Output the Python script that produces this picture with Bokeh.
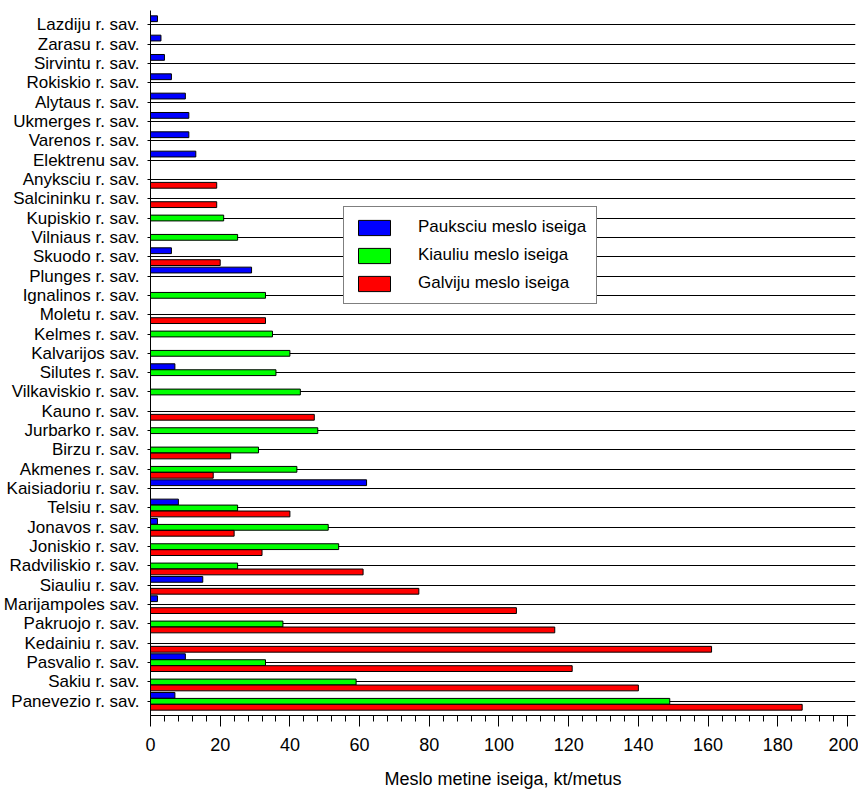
from bokeh.plotting import figure
from bokeh.models import FactorRange, Range1d, SingleIntervalTicker, Legend, LegendItem, ColumnDataSource
from bokeh.transform import dodge
from bokeh.embed import file_html
from bokeh.resources import INLINE

# categories listed top to bottom as in the chart
categories = [
    "Lazdiju r. sav.", "Zarasu r. sav.", "Sirvintu r. sav.", "Rokiskio r. sav.",
    "Alytaus r. sav.", "Ukmerges r. sav.", "Varenos r. sav.", "Elektrenu sav.",
    "Anyksciu r. sav.", "Salcininku r. sav.", "Kupiskio r. sav.", "Vilniaus r. sav.",
    "Skuodo r. sav.", "Plunges r. sav.", "Ignalinos r. sav.", "Moletu r. sav.",
    "Kelmes r. sav.", "Kalvarijos sav.", "Silutes r. sav.", "Vilkaviskio r. sav.",
    "Kauno r. sav.", "Jurbarko r. sav.", "Birzu r. sav.", "Akmenes r. sav.",
    "Kaisiadoriu r. sav.", "Telsiu r. sav.", "Jonavos r. sav.", "Joniskio r. sav.",
    "Radviliskio r. sav.", "Siauliu r. sav.", "Marijampoles sav.", "Pakruojo r. sav.",
    "Kedainiu r. sav.", "Pasvalio r. sav.", "Sakiu r. sav.", "Panevezio r. sav.",
]
paukstiena = [2, 3, 4, 6, 10, 11, 11, 13, 0, 0, 0, 0, 6, 29, 0, 0, 0, 0, 7, 0,
              0, 0, 0, 0, 62, 8, 2, 0, 0, 15, 2, 0, 0, 10, 0, 7]
kiauliena = [0, 0, 0, 0, 0, 0, 0, 0, 0, 0, 21, 25, 0, 0, 33, 0, 35, 40, 36, 43,
             0, 48, 31, 42, 0, 25, 51, 54, 25, 0, 0, 38, 0, 33, 59, 149]
galviju = [0, 0, 0, 0, 0, 0, 0, 0, 19, 19, 0, 0, 20, 0, 0, 33, 0, 0, 0, 0,
           47, 0, 23, 18, 0, 40, 24, 32, 61, 77, 105, 116, 161, 121, 140, 187]
series_names = ["Paukstciu meslo iseiga".replace("st", "s"), "Kiauliu meslo iseiga",
                "Galviju meslo iseiga"]
x_label = "Meslo metine iseiga, kt/metus"

FONT = "'Liberation Sans', Arial, sans-serif"

src = ColumnDataSource(dict(cat=categories, b=paukstiena, g=kiauliena, r=galviju))

y_range = FactorRange(factors=list(reversed(categories)), range_padding=0.234,
                      range_padding_units="absolute")
p = figure(frame_width=705, frame_height=705, y_range=y_range, x_range=Range1d(0, 202.3),
           output_backend="svg", toolbar_location=None,
           min_border_left=142, min_border_right=3, min_border_top=10, min_border_bottom=78)
p.outline_line_color = None
p.xgrid.grid_line_color = None
p.ygrid.grid_line_color = "black"
p.ygrid.grid_line_width = 1

off = 0.308
hgt = 0.3
rb = p.hbar(y=dodge("cat", off, range=y_range), right="b", left=0, height=hgt, source=src,
            fill_color="#0000ff", line_color="black", line_width=1)
rg = p.hbar(y=dodge("cat", 0, range=y_range), right="g", left=0, height=hgt, source=src,
            fill_color="#00ff00", line_color="black", line_width=1)
rr = p.hbar(y=dodge("cat", -off, range=y_range), right="r", left=0, height=hgt, source=src,
            fill_color="#ff0000", line_color="black", line_width=1)

xa = p.xaxis[0]
xa.ticker = SingleIntervalTicker(interval=20, num_minor_ticks=5)
xa.axis_line_color = "black"
xa.major_tick_out = 11
xa.major_tick_in = 0
xa.minor_tick_out = 6
xa.minor_tick_in = 0
xa.major_tick_line_color = "black"
xa.minor_tick_line_color = "black"
xa.major_label_text_font = FONT
xa.major_label_text_font_size = "18px"
xa.major_label_text_color = "black"
xa.major_label_standoff = 11
xa.axis_label = x_label
xa.axis_label_text_font = FONT
xa.axis_label_text_font_size = "18px"
xa.axis_label_text_font_style = "normal"
xa.axis_label_text_color = "black"
xa.axis_label_standoff = 15

ya = p.yaxis[0]
ya.axis_line_color = "black"
ya.major_tick_out = 3
ya.major_tick_in = 0
ya.major_tick_line_color = "black"
ya.major_label_text_font = FONT
ya.major_label_text_font_size = "17px"
ya.major_label_text_color = "black"
ya.major_label_standoff = 8

legend = Legend(items=[LegendItem(label=series_names[0], renderers=[rb]),
                       LegendItem(label=series_names[1], renderers=[rg]),
                       LegendItem(label=series_names[2], renderers=[rr])],
                location=(193, 411))
legend.glyph_width = 40
legend.glyph_height = 19
legend.label_standoff = 24
legend.spacing = 8
legend.padding = 10
legend.margin = 0
legend.label_text_font = FONT
legend.label_text_font_size = "17px"
legend.label_text_color = "black"
legend.border_line_color = "black"
legend.border_line_width = 1
legend.background_fill_color = "white"
legend.background_fill_alpha = 1
p.add_layout(legend, "center")

open("out.html", "w").write(file_html(p, INLINE))
